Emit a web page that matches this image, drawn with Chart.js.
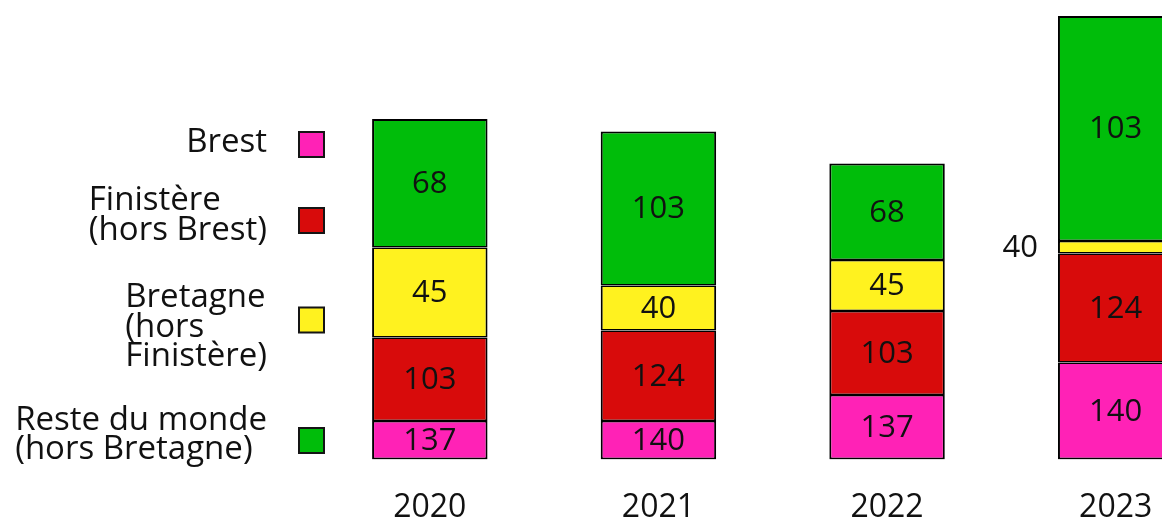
<!DOCTYPE html>
<html>
<head>
<meta charset="utf-8">
<script src="https://cdn.jsdelivr.net/npm/chart.js@4"></script>
<style>
  html, body { margin: 0; padding: 0; background: #fff; overflow: hidden; }
  #wrap { width: 1162px; height: 522px; overflow: hidden; }
</style>
</head>
<body>
<div id="wrap"><canvas id="chart" width="1230" height="522"></canvas></div>
<script>
const years = ["2020", "2021", "2022", "2023"];
const seriesNames = [
  ["Brest"],
  ["Finistère", "(hors Brest)"],
  ["Bretagne", "(hors", "Finistère)"],
  ["Reste du monde", "(hors Bretagne)"],
];
// segment heights as they are drawn in the picture (not proportional to the printed numbers)
const brestHeight = [38.5, 38.5, 64.5, 97];
const finistereHeight = [83.5, 90.5, 84, 109];
const bretagneHeight = [90, 45, 51, 12.5];
const mondeHeight = [128.5, 154, 96.5, 225];
// numbers printed on the segments
const brestLabels = [137, 140, 137, 140];
const finistereLabels = [103, 124, 103, 124];
const bretagneLabels = [45, 40, 45, 40];
const mondeLabels = [68, 103, 68, 103];

const colors = ["#ff22b6", "#d80b0b", "#fff21f", "#00bd0a"];
const edge = "#000";

Chart.defaults.font.family = "'Open Sans', sans-serif";
Chart.defaults.color = "#111";

// numbers on the bars
const valueLabels = {
  id: "valueLabels",
  afterDatasetsDraw(chart) {
    const ctx = chart.ctx;
    ctx.save();
    ctx.font = "31px 'Open Sans'";
    ctx.fillStyle = "#111";
    ctx.textBaseline = "middle";
    chart.data.datasets.forEach((ds, i) => {
      chart.getDatasetMeta(i).data.forEach((bar, j) => {
        const top = Math.min(bar.y, bar.base);
        const h = Math.abs(bar.base - bar.y);
        const cy = top + h / 2 + 1;
        if (h < 30) {
          // too thin: put the number left of the bar
          ctx.textAlign = "right";
          ctx.fillText(ds.printed[j], bar.x - bar.width / 2 - 20, cy);
        } else {
          ctx.textAlign = "center";
          ctx.fillText(ds.printed[j], bar.x, cy);
        }
      });
    });
    ctx.restore();
  },
};

// legend on the left, text block right-aligned next to a square
const legendItems = [
  { boxTop: 131, firstBase: 152 },
  { boxTop: 207, firstBase: 210 },
  { boxTop: 306.5, firstBase: 307 },
  { boxTop: 427, firstBase: 429.5 },
];
const sideLegend = {
  id: "sideLegend",
  afterDraw(chart) {
    const ctx = chart.ctx;
    ctx.save();
    ctx.font = "33px 'Open Sans'";
    ctx.fillStyle = "#111";
    ctx.textBaseline = "alphabetic";
    ctx.textAlign = "left";
    legendItems.forEach((item, i) => {
      const lines = seriesNames[i];
      const maxW = Math.max(...lines.map((l) => ctx.measureText(l).width));
      const left = 267 - maxW;
      lines.forEach((l, k) => ctx.fillText(l, left, item.firstBase + k * 29.5));
      // square
      ctx.fillStyle = "#151515";
      ctx.fillRect(298, item.boxTop, 27, 27);
      ctx.fillStyle = colors[i];
      ctx.fillRect(300, item.boxTop + 2, 23, 23);
      ctx.fillStyle = "#111";
    });
    ctx.restore();
  },
};

const sideBorder = (pos) => ({
  top: pos === "top" ? 2 : 1.5,
  bottom: pos === "bottom" ? 2 : 1.5,
  left: 2,
  right: 2,
});

const ctx = document.getElementById("chart").getContext("2d");
const myChart = new Chart(ctx, {
  type: "bar",
  data: {
    labels: years,
    datasets: [
      { label: seriesNames[0].join(" "), data: brestHeight, printed: brestLabels, backgroundColor: colors[0], borderWidth: sideBorder("bottom") },
      { label: seriesNames[1].join(" "), data: finistereHeight, printed: finistereLabels, backgroundColor: colors[1], borderWidth: sideBorder("mid") },
      { label: seriesNames[2].join(" "), data: bretagneHeight, printed: bretagneLabels, backgroundColor: colors[2], borderWidth: sideBorder("mid") },
      { label: seriesNames[3].join(" "), data: mondeHeight, printed: mondeLabels, backgroundColor: colors[3], borderWidth: sideBorder("top") },
    ],
  },
  options: {
    responsive: false,
    animation: false,
    layout: { padding: { left: 315.5, right: 0, top: 0, bottom: 0.5 } },
    datasets: {
      bar: {
        borderColor: edge,
        borderSkipped: false,
        inflateAmount: 0,
        categoryPercentage: 1,
        barPercentage: 0.505,
      },
    },
    plugins: {
      legend: { display: false },
      tooltip: { enabled: false },
    },
    scales: {
      x: {
        stacked: true,
        grid: { display: false, drawTicks: false },
        border: { display: false },
        ticks: { font: { size: 32, lineHeight: 1 }, padding: 32, color: "#111" },
        afterFit: (scale) => { scale.height = 62; },
      },
      y: {
        stacked: true,
        display: false,
        min: 0,
        max: 459.5,
      },
    },
  },
  plugins: [valueLabels, sideLegend],
});
</script>
</body>
</html>
